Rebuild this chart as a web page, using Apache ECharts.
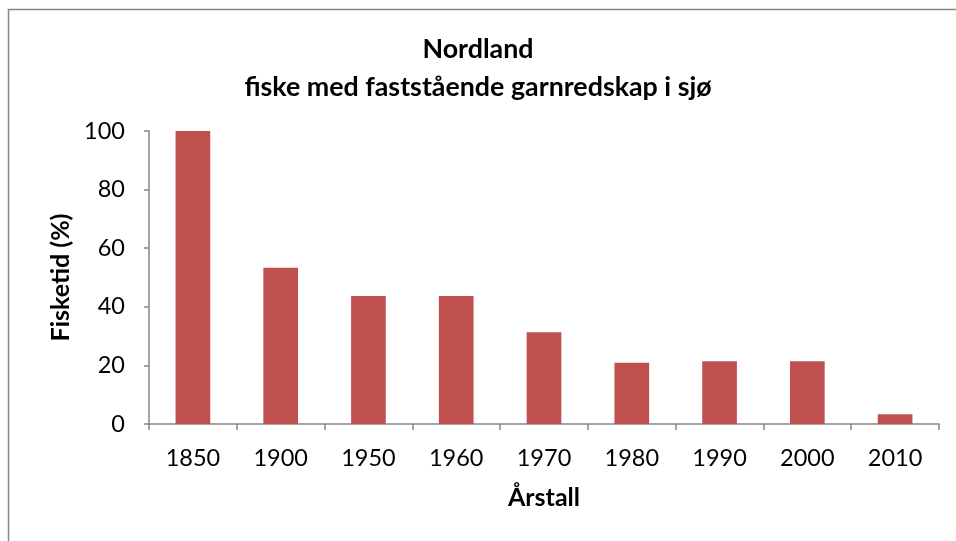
<!DOCTYPE html>
<html><head><meta charset="utf-8">
<script src="https://cdn.jsdelivr.net/npm/echarts@6/dist/echarts.min.js"></script>
<style>html,body{margin:0;padding:0;background:#fff}#c{width:956px;height:541px}</style>
</head><body><div id="c"></div>
<script>
const categories = ['1850','1900','1950','1960','1970','1980','1990','2000','2010'];
const values = [100, 53.3, 43.7, 43.7, 31.3, 20.9, 21.4, 21.4, 3.3];
const yTicks = [0, 20, 40, 60, 80, 100];
const titleLines = ['Nordland', 'fiske med faststående garnredskap i sjø'];
const xName = 'Årstall';
const yName = 'Fisketid (%)';

const FONT = 'Lato, "Open Sans", sans-serif';
const chart = echarts.init(document.getElementById('c'));
chart.setOption({
  animation: false,
  backgroundColor: '#fff',
  graphic: [{
    type: 'rect', shape: {x: 8.5, y: 9.5, width: 1000, height: 600},
    style: {fill: 'none', stroke: '#868686', lineWidth: 1.5}, silent: true
  }],
  title: {
    text: titleLines.join('\n'), left: 'center', top: 25,
    textStyle: {fontFamily: FONT, fontWeight: 'bold', fontSize: 26.8, color: '#000', lineHeight: 38}
  },
  grid: {left: 149, right: 17, top: 131, bottom: 117, containLabel: false},
  xAxis: {
    type: 'category', data: categories,
    name: xName, nameLocation: 'middle', nameGap: 61,
    nameTextStyle: {fontFamily: FONT, fontWeight: 'bold', fontSize: 25, color: '#000'},
    axisLine: {lineStyle: {color: '#868686', width: 1.5}},
    axisTick: {show: true, alignWithLabel: false, length: 6, lineStyle: {color: '#868686', width: 1.5}},
    axisLabel: {fontFamily: FONT, fontSize: 23.5, color: '#000', margin: 22}
  },
  yAxis: {
    type: 'value', min: yTicks[0], max: yTicks[yTicks.length-1], interval: 20,
    name: yName, nameLocation: 'middle', nameGap: 74, nameRotate: 90,
    nameTextStyle: {fontFamily: FONT, fontWeight: 'bold', fontSize: 25, color: '#000'},
    axisLine: {show: true, lineStyle: {color: '#868686', width: 1.5}},
    axisTick: {show: true, length: 5, lineStyle: {color: '#868686', width: 1.5}},
    splitLine: {show: false},
    axisLabel: {fontFamily: FONT, fontSize: 23.5, color: '#000', margin: 24}
  },
  series: [{
    type: 'bar', data: values, barWidth: '39.5%',
    itemStyle: {color: '#C0504D'}
  }]
});
</script></body></html>
